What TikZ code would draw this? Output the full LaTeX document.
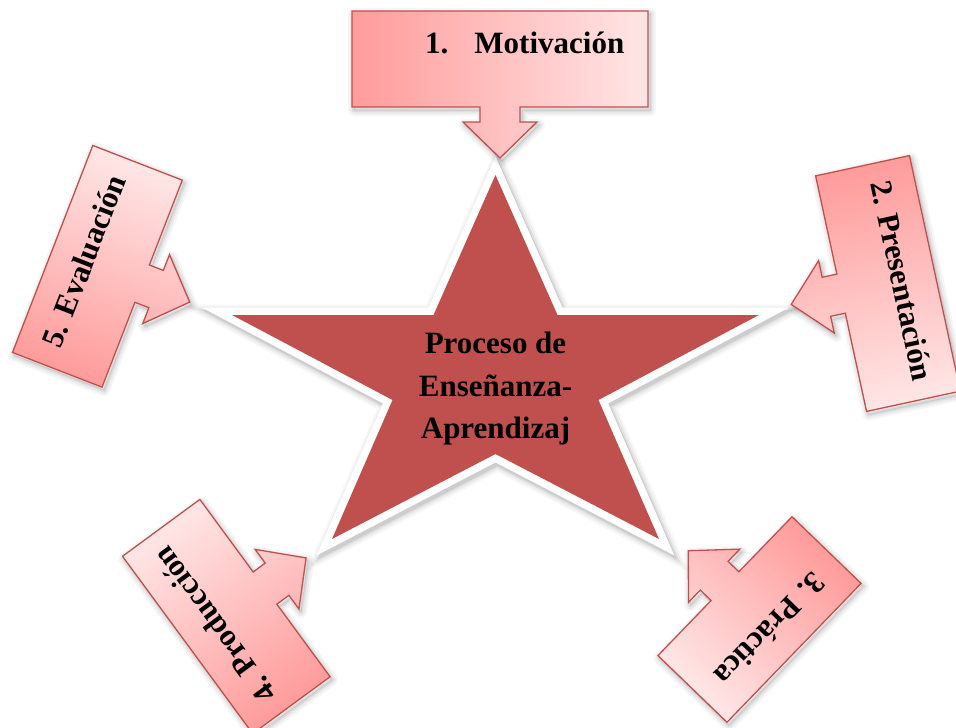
\documentclass[tikz,border=0pt]{standalone}
\usepackage{fontspec}
\setmainfont{Liberation Serif}
\definecolor{starred}{RGB}{192,80,77}
\definecolor{boxline}{RGB}{192,80,77}
\definecolor{boxdark}{RGB}{255,155,155}
\definecolor{boxlight}{RGB}{255,230,230}
\tikzset{
  boxtext/.style={font=\bfseries\fontsize{31}{37}\selectfont, inner sep=0pt, text=black},
  startext/.style={font=\bfseries\fontsize{31}{37}\selectfont, inner sep=0pt, anchor=base, text=black},
  boxfill/.style={left color=boxdark, right color=boxlight, draw=boxline, line width=1.3pt},
}
\newcommand{\cpath}[1]{(-#1/2,48) -- (#1/2,48) -- (#1/2,-48) -- (20,-48) -- (20,-63) -- (37,-63) -- (0,-99) -- (-37,-63) -- (-20,-63) -- (-20,-48) -- (-#1/2,-48) -- cycle}
\newcommand{\starpth}{(495.5,-175) -- (557.5,-315) -- (759,-315) -- (598.5,-400) -- (659,-539) -- (495.5,-454) -- (332,-539) -- (392.5,-400) -- (232,-315) -- (433.5,-315) -- cycle}
\newcommand{\callout}[5]{%
  \begin{scope}[transform canvas={shift={(#1+2,-#2-3)},rotate=#3}]
    \foreach \lw/\op in {12/0.035,8/0.045,4/0.06,1/0.08}{\draw[black,opacity=\op,line width=\lw pt,line join=round] \cpath{#4};}
  \end{scope}
  \begin{scope}[transform canvas={shift={(#1,-#2)},rotate=#3}]
    \shade[boxfill] \cpath{#4};
    #5
  \end{scope}}
\begin{document}
\begin{tikzpicture}[x=1pt,y=1pt]
\useasboundingbox (0,0) rectangle (956,-728);
\fill[white] (0,0) rectangle (956,-728);
% star shadow
\begin{scope}[shift={(2,-3)}]
  \foreach \lw/\op in {27/0.03,23/0.04,19/0.06,16/0.08}{\draw[black,opacity=\op,line width=\lw pt,line join=miter] \starpth;}
\end{scope}
\draw[white,line width=15pt,line join=miter] \starpth;
\fill[starred] \starpth;
\node[startext] (s1) at (495.5,-353.3) {Proceso de};
\node[startext] (s2) at (495.5,-396.7) {Enseñanza-};
\node[startext] (s3) at (495.5,-438.3) {Aprendizaj};
% callouts
\callout{500}{59}{0}{296}{\node[boxtext,anchor=base west] (b1) at (-75,6) {1.\hspace{26pt}Motivación};}
\callout{888}{283.5}{-77.8}{241}{\node[boxtext,anchor=base] (b2) at (0,4) {2. Presentación};}
\callout{759.5}{619.5}{226}{193}{\node[boxtext,anchor=base] (b3) at (0,4) {3. Práctica};}
\callout{226.3}{616.5}{126.3}{220}{\node[boxtext,anchor=base] (b4) at (0,4) {4. Producción};}
\callout{97.4}{266.3}{68.8}{222}{\node[boxtext,anchor=base] (b5) at (0,4) {5. Evaluación};}
\end{tikzpicture}
\end{document}
